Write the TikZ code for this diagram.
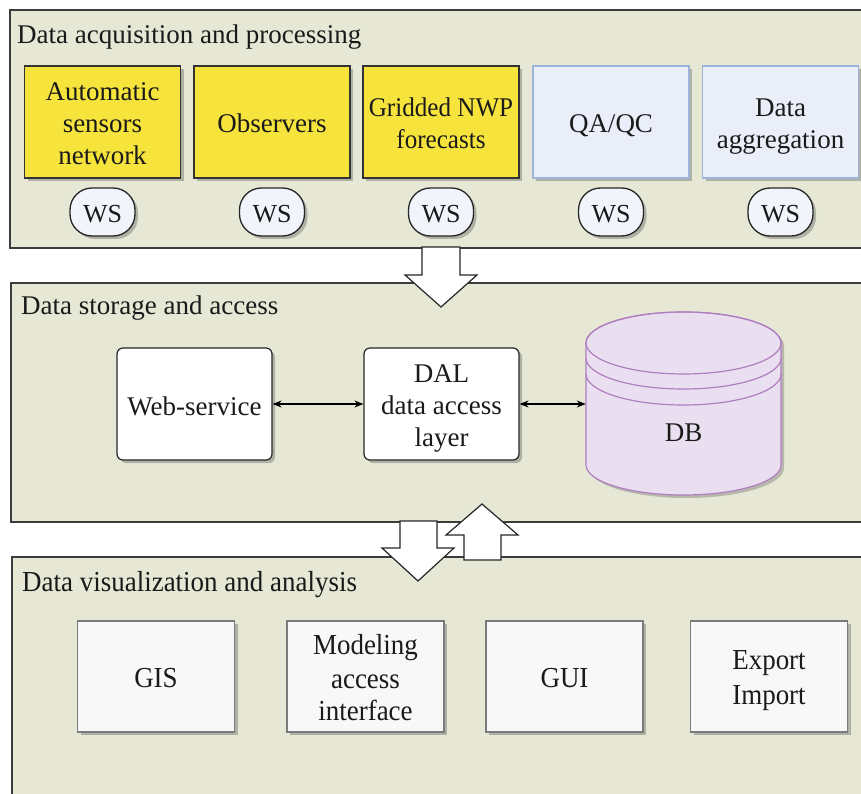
\documentclass[tikz,border=0pt]{standalone}
\usepackage{fontspec}
\setmainfont{Liberation Serif}
\newfontfamily\condfont[FakeStretch=0.93]{Liberation Serif}
\usetikzlibrary{shapes.geometric,shadows,arrows.meta}
\newcommand\ls{\rule[-5pt]{0pt}{32pt}}
\definecolor{panelfill}{HTML}{E6E8D5}
\definecolor{panelline}{HTML}{3C3C3C}
\definecolor{yfill}{HTML}{F6E43C}
\definecolor{bfill}{HTML}{E9EEF9}
\definecolor{bline}{HTML}{9CB3DC}
\definecolor{wsfill}{HTML}{F1F4FB}
\definecolor{dbfill}{HTML}{EADFF1}
\definecolor{dbline}{HTML}{B07FC0}
\definecolor{gfill}{HTML}{F8F8F8}
\definecolor{gline}{HTML}{7A7A7A}
\definecolor{txt}{HTML}{1A1A1A}
\begin{document}
\begin{tikzpicture}[x=1pt,y=-1pt,
  every node/.style={text=txt},
  panel/.style={draw=panelline,line width=1.5pt,fill=panelfill},
  plabel/.style={anchor=base west,inner sep=0pt,font=\fontsize{27}{32}\selectfont},
  shad/.style={drop shadow={shadow xshift=3pt,shadow yshift=-3pt,opacity=0.35,fill=black!70}},
  boxbase/.style={shad,minimum width=156,minimum height=112,align=center,inner sep=0pt,
    font=\fontsize{27}{32}\selectfont},
  ybox/.style={boxbase,draw=black!80,line width=1.2pt,fill=yfill},
  bbox/.style={boxbase,draw=bline,line width=1.2pt,fill=bfill},
  wbox/.style={boxbase,draw=black!85,line width=1.2pt,fill=white,rounded corners=6pt},
  gbox/.style={boxbase,draw=gline,line width=1.2pt,fill=gfill,minimum width=157,minimum height=111,
    font=\condfont\fontsize{29}{32}\selectfont},
  ws/.style={rectangle,rounded corners=22pt,shad,draw=black!85,line width=1.3pt,fill=wsfill,
    minimum width=65,minimum height=48,inner sep=0pt,font=\fontsize{26}{30}\selectfont},
  blockarrow/.style={draw=black!85,line width=1.2pt,fill=white,line join=miter},
  link/.style={{Stealth[length=9pt,width=7pt]}-{Stealth[length=9pt,width=7pt]},line width=1.1pt,draw=black}
]
\useasboundingbox (0,0) rectangle (861,794);
\clip (0,0) rectangle (861,794);
\fill[white] (0,0) rectangle (861,794);

% panels
\draw[panel] (10,10) rectangle (900,248);
\draw[panel] (11,283) rectangle (900,522);
\draw[panel] (12,557) rectangle (900,830);

\node[plabel] (l1) at (17,44) {Data acquisition and processing};
\node[plabel] (l2) at (21,314) {Data storage and access};
\node[plabel,font=\condfont\fontsize{29}{32}\selectfont] (l3) at (22,591) {Data visualization and analysis};

% top row
\node[ybox] (asn) at (102.5,122) {\ls Automatic\\\ls sensors\\\ls network};
\node[ybox] (obs) at (272,122) {\ls Observers};
\node[ybox,font=\condfont\fontsize{27}{32}\selectfont] (nwp) at (441,122) {\ls Gridded NWP\\\ls forecasts};
\node[bbox] (qa) at (611,122) {\ls QA/QC};
\node[bbox] (agg) at (780.5,122) {\ls Data\\\ls aggregation};

\node[ws] (ws1) at (102.5,212) {\ls WS};
\node[ws] (ws2) at (272,212) {\ls WS};
\node[ws] (ws3) at (441,212) {\ls WS};
\node[ws] (ws4) at (611,212) {\ls WS};
\node[ws] (ws5) at (780.5,212) {\ls WS};

% middle row
\node[wbox,minimum width=155] (web) at (194.5,404) {\ls Web-service};
\node[wbox,minimum width=155] (dal) at (441.5,404) {\ls DAL\\\ls data access\\\ls layer};

% DB cylinder
\fill[black!70,opacity=0.3,xshift=3pt,yshift=-3pt]
  (586,343) -- (586,465) arc[start angle=180,end angle=0,x radius=97.5,y radius=30] -- (781,343)
  arc[start angle=0,end angle=-180,x radius=97.5,y radius=31] -- cycle;
\filldraw[fill=dbfill,draw=dbline,line width=1.2pt]
  (586,343) -- (586,465) arc[start angle=180,end angle=0,x radius=97.5,y radius=30] -- (781,343)
  arc[start angle=0,end angle=-180,x radius=97.5,y radius=31] -- cycle;
\draw[dbline,line width=1.2pt] (683.5,343) ellipse[x radius=97.5,y radius=31];
\draw[dbline,line width=1.2pt] (586,358) arc[start angle=180,end angle=0,x radius=97.5,y radius=31];
\draw[dbline,line width=1.2pt] (586,374) arc[start angle=180,end angle=0,x radius=97.5,y radius=31];
\node[minimum width=195,minimum height=182,inner sep=0pt] (db) at (683.5,404) {};
\node[font=\fontsize{27}{32}\selectfont,inner sep=0pt] (dbl) at (683.5,433) {DB};

\draw[link] (web.east) -- (dal.west);
\draw[link] (dal.east) -- (db.west);

% bottom row
\node[gbox] (gis) at (156,676.5) {\ls GIS};
\node[gbox] (mod) at (365.5,676.5) {\ls Modeling\\\ls access\\\ls interface};
\node[gbox] (gui) at (564.5,676.5) {\ls GUI};
\node[gbox] (exp) at (769,676.5) {\ls Export\\\ls Import};

% block arrows
\draw[blockarrow] (422,247) -- (460,247) -- (460,275) -- (477,275) -- (441,307) -- (405,275) -- (422,275) -- cycle;
\draw[blockarrow] (400,521) -- (437,521) -- (437,548) -- (454,548) -- (418,581) -- (382,548) -- (400,548) -- cycle;
\draw[blockarrow] (464,560) -- (501,560) -- (501,535) -- (518,535) -- (482,504) -- (446,535) -- (464,535) -- cycle;
\end{tikzpicture}
\end{document}
